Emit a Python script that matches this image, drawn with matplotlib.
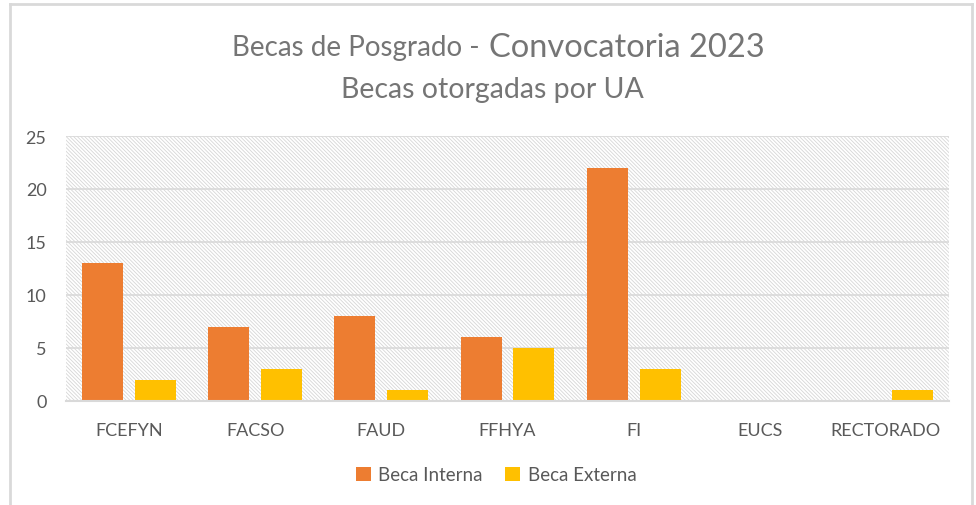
import matplotlib.pyplot as plt
import numpy as np
from matplotlib.lines import Line2D
from matplotlib.patches import Rectangle

# datos
unidades = ['FCEFYN', 'FACSO', 'FAUD', 'FFHYA', 'FI', 'EUCS', 'RECTORADO']
beca_interna = [13, 7, 8, 6, 22, 0, 0]
beca_externa = [2, 3, 1, 5, 3, 0, 1]

gris = '#595959'
gris_titulo = '#757575'
plt.rcParams['font.family'] = ['Lato', 'DejaVu Sans']
plt.rcParams['hatch.color'] = '#d6d6d6'
plt.rcParams['hatch.linewidth'] = 0.6

fig = plt.figure(figsize=(9.76, 5.06), dpi=100)
ax = fig.add_axes([66 / 976, 1 - 402 / 506, 883 / 976, 265 / 506])

# fondo rayado
ax.add_patch(Rectangle((0, 0), 1, 1, transform=ax.transAxes, facecolor='white',
                       edgecolor='#d6d6d6', hatch='\\' * 9, linewidth=0, zorder=0))

x = np.arange(len(unidades))
ancho = 0.325
ax.bar(x - 0.21, beca_interna, ancho, color='#ED7D31', label='Beca Interna', zorder=3)
ax.bar(x + 0.21, beca_externa, ancho, color='#FFC000', label='Beca Externa', zorder=3)

ax.set_xlim(-0.5, len(unidades) - 0.5)
ax.set_ylim(0, 25)
ax.set_yticks(range(0, 26, 5))
ax.set_xticks(x)
ax.set_xticklabels(unidades)
ax.yaxis.grid(True, color='#d9d9d9', linewidth=1.2, zorder=1)
ax.set_axisbelow(True)
for s in ['top', 'right', 'left']:
    ax.spines[s].set_visible(False)
ax.spines['bottom'].set_color('#d9d9d9')
ax.spines['bottom'].set_linewidth(1.5)
ax.spines['bottom'].set_zorder(4)
ax.tick_params(axis='both', length=0, colors=gris, labelsize=13)
ax.tick_params(axis='y', pad=14)
ax.tick_params(axis='x', pad=15)

# titulo
fig.text(480 / 976, 1 - 48 / 506, 'Becas de Posgrado -', ha='right', va='center',
         fontsize=20, color=gris_titulo)
fig.text(489 / 976, 1 - 48 / 506, 'Convocatoria 2023', ha='left', va='center',
         fontsize=23.5, color=gris_titulo)
fig.text(492 / 976, 1 - 90 / 506, 'Becas otorgadas por UA', ha='center', va='center',
         fontsize=20.5, color=gris_titulo)

fig.legend(loc='center', bbox_to_anchor=(496 / 976, 1 - 476 / 506), ncol=2, frameon=False,
           fontsize=13.5, labelcolor=gris, handlelength=0.8, handleheight=0.8,
           handletextpad=0.4, columnspacing=1.2)

# marco
fig.add_artist(Line2D([10 / 976, 10 / 976], [0, 1 - 5 / 506], color='#d9d9d9', linewidth=2))
fig.add_artist(Line2D([972 / 976, 972 / 976], [0, 1 - 5 / 506], color='#d9d9d9', linewidth=2))
fig.add_artist(Line2D([10 / 976, 972 / 976], [1 - 5 / 506, 1 - 5 / 506], color='#d9d9d9', linewidth=2))

fig.savefig('out.png', dpi=100)
